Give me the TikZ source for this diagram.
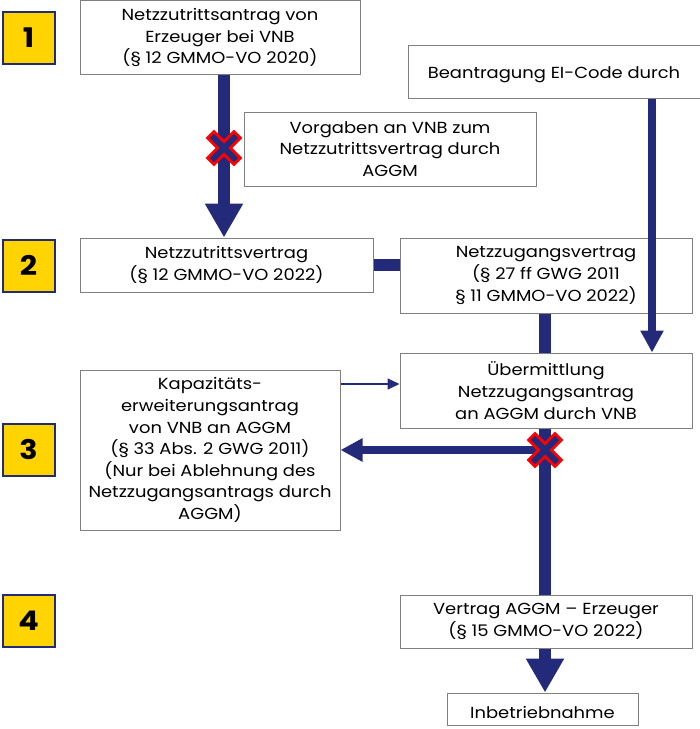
\documentclass[tikz,border=0pt]{standalone}
\usepackage{fontspec}
\setmainfont{Poppins}[FakeStretch=1.12]
\usetikzlibrary{arrows.meta}
\definecolor{navy}{RGB}{36,42,122}
\definecolor{boxgray}{RGB}{128,128,128}
\definecolor{numyellow}{RGB}{255,212,0}
\tikzset{
  box/.style={draw=boxgray, line width=1pt, fill=white, align=center, inner sep=0pt,
    font=\fontsize{16}{21.6}\selectfont, execute at begin node={\rule{0pt}{19pt}}},
  numbox/.style={draw=navy, line width=2pt, fill=numyellow, minimum width=52pt, minimum height=52pt,
    inner sep=0pt, font=\fontsize{27}{29}\selectfont\bfseries},
  thick arrow/.style={navy, line width=12pt, -{Triangle[width=36pt,length=34pt]}},
  thick line/.style={navy, line width=12pt},
  mid arrow/.style={navy, line width=8pt, -{Triangle[width=22pt,length=22pt]}},
  thin arrow/.style={navy, line width=1.6pt, -{Triangle[width=11pt,length=12pt]}},
}
\newcommand{\redx}[1]{%
  \begin{scope}[shift={(#1)}]
    \draw[red, line width=12pt, line cap=rect] (-10,-10) -- (10,10);
    \draw[red, line width=12pt, line cap=rect] (-10,10) -- (10,-10);
    \draw[navy, line width=6pt, line cap=rect] (-10,-10) -- (10,10);
    \draw[navy, line width=6pt, line cap=rect] (-10,10) -- (10,-10);
  \end{scope}}
\begin{document}
\begin{tikzpicture}[x=1pt,y=-1pt]
\useasboundingbox (0,0) rectangle (700,729);
% number boxes
\node[numbox] (k1) at (28.5,38) {1};
\node[numbox] (k2) at (28.5,265.5) {2};
\node[numbox] (k3) at (28.5,449.5) {3};
\node[numbox] (k4) at (28.5,621) {4};
% boxes
\node[box, minimum width=280pt, minimum height=74pt] (n1) at (220,37.5)
  {Netzzutrittsantrag von\\Erzeuger bei VNB\\(§ 12 GMMO-VO 2020)};
\node[box, minimum width=292pt, minimum height=53pt] (ei) at (554,71.5)
  {Beantragung EI-Code durch};
\node[box, minimum width=292pt, minimum height=74pt] (vorg) at (390,149)
  {Vorgaben an VNB zum\\Netzzutrittsvertrag durch\\AGGM};
\node[box, minimum width=293pt, minimum height=54pt] (nzv) at (226.5,265)
  {Netzzutrittsvertrag\\(§ 12 GMMO-VO 2022)};
\node[box, minimum width=292pt, minimum height=75pt] (nzg) at (546,275.5)
  {Netzzugangsvertrag\\(§ 27 ff GWG 2011\\§ 11 GMMO-VO 2022)};
\node[box, minimum width=292pt, minimum height=75pt] (ueb) at (546,390.5)
  {Übermittlung\\Netzzugangsantrag\\an AGGM durch VNB};
\node[box, minimum width=260pt, minimum height=160pt] (kap) at (210,450)
  {Kapazitäts-\\erweiterungsantrag\\von VNB an AGGM\\(§ 33 Abs. 2 GWG 2011)\\(Nur bei Ablehnung des\\Netzzugangsantrags durch\\AGGM)};
\node[box, minimum width=292pt, minimum height=53pt] (vag) at (546,621.5)
  {Vertrag AGGM – Erzeuger\\(§ 15 GMMO-VO 2022)};
\node[box, minimum width=191pt, minimum height=32pt] (inb) at (542.5,709)
  {Inbetriebnahme};
% connectors
\draw[thick arrow] (n1.south -| 224,0) -- (nzv.north -| 224,0);
\draw[thick line] (nzv.east) -- (nzv.east -| nzg.west);
\draw[mid arrow] (ei.south -| 652,0) -- (ueb.north -| 652,0);
\draw[thick line] (nzg.south -| 545,0) -- (ueb.north -| 545,0);
\draw[thin arrow] (kap.east |- 0,384) -- (ueb.west |- 0,384);
\draw[thick line] (ueb.south -| 545,0) -- (vag.north -| 545,0);
\coordinate (split) at (545,450);
\draw[mid arrow] (split) -- (kap.east |- split);
\draw[thick arrow] (vag.south -| 545,0) -- (inb.north -| 545,0);
\redx{224,148}
\redx{545,450}
\end{tikzpicture}
\end{document}
